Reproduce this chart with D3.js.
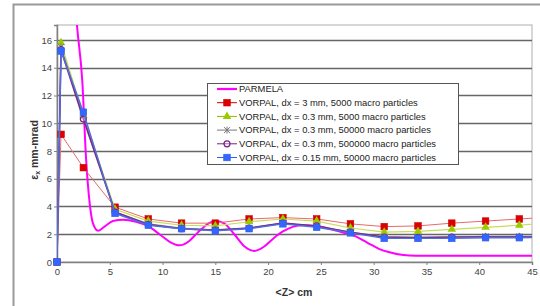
<!DOCTYPE html>
<html>
<head>
<meta charset="utf-8">
<script src="https://cdn.jsdelivr.net/npm/d3@7"></script>
<style>
body { margin: 0; background: #fff; }
svg { display: block; }
</style>
</head>
<body>
<div id="chart"></div>
<script>
// emittance along the beamline, PARMELA vs VORPAL runs

var zSteps = [0, 0.38, 2.5, 5.5, 8.65, 11.8, 15, 18.2, 21.4, 24.6, 27.8, 31, 34.2, 37.4, 40.6, 43.8, 47];
var vorpalDx3mm5k = [0, 9.2, 6.8, 3.95, 3.1, 2.8, 2.8, 3.1, 3.2, 3.1, 2.75, 2.55, 2.6, 2.8, 2.95, 3.1, 3.25];
var vorpalDx03mm5k = [0, 15.8, 10.6, 3.8, 2.95, 2.65, 2.6, 2.9, 3.1, 2.95, 2.45, 2.15, 2.2, 2.35, 2.5, 2.65, 2.85];
var vorpalDx03mm50k = [0, 15.5, 10.5, 3.6, 2.75, 2.45, 2.3, 2.45, 2.8, 2.55, 2.15, 1.8, 1.8, 1.8, 1.85, 1.85, 1.85];
var vorpalDx03mm500k = [0, 15.3, 10.3, 3.6, 2.7, 2.4, 2.3, 2.45, 2.8, 2.6, 2.15, 1.8, 1.75, 1.8, 1.8, 1.8, 1.8];
var vorpalDx015mm50k = [0, 15.2, 10.8, 3.5, 2.65, 2.4, 2.25, 2.4, 2.75, 2.5, 2.1, 1.7, 1.7, 1.7, 1.75, 1.75, 1.8];

var parmelaZ = [1.6, 1.9, 2.4, 2.75, 3.1, 3.4, 3.9, 4.5, 5.3, 6.3, 7.5, 8.5, 9.8, 10.8, 11.6, 12.5, 13.3, 14.2, 15, 15.8, 16.8, 17.8, 18.7, 19.6, 20.5, 21.4, 22.4, 23.3, 24.6, 25.8, 27, 28.3, 29.5, 30.5, 31.5, 32.8, 34, 38, 45];
var parmelaE = [20, 17, 13, 7.5, 4.2, 2.8, 2.25, 2.55, 2.95, 3.05, 2.9, 2.65, 1.95, 1.4, 1.2, 1.5, 2.1, 2.7, 2.95, 2.8, 2.0, 1.1, 0.8, 1.1, 1.7, 2.2, 2.55, 2.65, 2.6, 2.4, 2.15, 1.85, 1.35, 0.95, 0.7, 0.5, 0.45, 0.45, 0.45];

var xTicks = [0, 5, 10, 15, 20, 25, 30, 35, 40, 45];
var yTicks = [0, 2, 4, 6, 8, 10, 12, 14, 16];

var seriesNames = [
	"PARMELA",
	"VORPAL, dx = 3 mm, 5000 macro particles",
	"VORPAL, dx = 0.3 mm, 5000 macro particles",
	"VORPAL, dx = 0.3 mm, 50000 macro particles",
	"VORPAL, dx = 0.3 mm, 500000 macro particles",
	"VORPAL, dx = 0.15 mm, 50000 macro particles"
];

function EmittanceChart(DOMelement) {
	var self = this;
	self._panel = DOMelement || "#chart";
	self.config = {
		width: 540,
		height: 306,
		left: 57, right: 532, top: 25, bottom: 262,
		font: "'Liberation Sans', Arial, sans-serif"
	};

	// style per series, same order as seriesNames
	self.styles = [
		{ line: "#ff00ff", width: 2, marker: null },
		{ line: "#e86a6a", width: 1, marker: "square", fill: "#dd0000", stroke: "#cc0000" },
		{ line: "#c8dc5a", width: 1.2, marker: "triangle", fill: "#99cc00", stroke: "#88bb00" },
		{ line: "#8c8c8c", width: 1.2, marker: "cross", fill: "none", stroke: "#777" },
		{ line: "#7a2a8a", width: 1.6, marker: "circle", fill: "none", stroke: "#7a1f86" },
		{ line: "#4f6fe0", width: 1.4, marker: "square", fill: "#3366ff", stroke: "#2f5ff0" }
	];

	this.drawMarker = function(g, st, x, y) {
		if (st.marker === "square") {
			g.append("rect").attr("x", x - 3.3).attr("y", y - 3.3).attr("width", 6.6).attr("height", 6.6)
				.attr("fill", st.fill).attr("stroke", st.stroke).attr("stroke-width", 0.6);
		} else if (st.marker === "triangle") {
			g.append("path").attr("d", d3.symbol(d3.symbolTriangle, 32)())
				.attr("transform", "translate(" + x + "," + y + ")")
				.attr("fill", st.fill);
		} else if (st.marker === "cross") {
			g.append("path").attr("d", "M-3,-3L3,3M-3,3L3,-3M0,-3.5L0,3.5")
				.attr("transform", "translate(" + x + "," + y + ")")
				.attr("stroke", st.stroke).attr("stroke-width", 1).attr("fill", "none");
		} else if (st.marker === "circle") {
			g.append("circle").attr("cx", x).attr("cy", y).attr("r", 3)
				.attr("fill", "#fff").attr("fill-opacity", 0.3).attr("stroke", st.stroke).attr("stroke-width", 1.2);
		}
	};

	this.Render = function() {
		var c = self.config;
		var svg = d3.select(self._panel).append("svg")
			.attr("width", c.width)
			.attr("height", c.height)
			.style("font-family", c.font);

		// outer chart frame
		svg.append("path")
			.attr("d", "M13.5," + c.height + "L13.5,4.5L" + c.width + ",4.5")
			.attr("fill", "none").attr("stroke", "#9a9a9a").attr("stroke-width", 2);

		var x = d3.scaleLinear().domain([0, 45]).range([c.left, c.right]);
		var y = d3.scaleLinear().domain([0, 17.08]).range([c.bottom, c.top]);

		// plot border (light)
		svg.append("rect")
			.attr("x", c.left).attr("y", c.top)
			.attr("width", c.right - c.left).attr("height", c.bottom - c.top)
			.attr("fill", "#fff").attr("stroke", "#bdbdbd").attr("stroke-width", 1.2);

		// gridlines
		svg.append("g").selectAll("line").data(yTicks.filter(function(t) { return t > 0; })).enter()
			.append("line")
			.attr("x1", c.left).attr("x2", c.right)
			.attr("y1", function(d) { return Math.round(y(d)) + 0.5; })
			.attr("y2", function(d) { return Math.round(y(d)) + 0.5; })
			.attr("stroke", "#666").attr("stroke-width", 1.5);

		// axes
		var xAxis = svg.append("g")
			.attr("transform", "translate(0," + c.bottom + ")")
			.call(d3.axisBottom(x).tickValues(xTicks).tickSize(3).tickPadding(3));
		var yAxis = svg.append("g")
			.attr("transform", "translate(" + c.left + ",0)")
			.call(d3.axisLeft(y).tickValues(yTicks).tickSize(3).tickPadding(2));
		[xAxis, yAxis].forEach(function(ax) {
			ax.select(".domain").attr("stroke", "#808080").attr("stroke-width", 1.5);
			ax.selectAll(".tick line").attr("stroke", "#808080");
			ax.selectAll(".tick text").attr("fill", "#444").style("font-size", "9.5px").style("font-family", c.font);
		});

		svg.append("clipPath").attr("id", "plotclip").append("rect")
			.attr("x", c.left).attr("y", c.top)
			.attr("width", c.right - c.left).attr("height", c.bottom - c.top + 2);

		var lineGen = d3.line().x(function(d) { return x(d[0]); }).y(function(d) { return y(d[1]); });
		var smoothGen = d3.line().curve(d3.curveMonotoneX)
			.x(function(d) { return x(d[0]); }).y(function(d) { return y(d[1]); });

		var vorpal = [vorpalDx3mm5k, vorpalDx03mm5k, vorpalDx03mm50k, vorpalDx03mm500k, vorpalDx015mm50k];
		var plot = svg.append("g");

		// PARMELA
		var parmela = parmelaZ.map(function(z, i) { return [z, parmelaE[i]]; });
		plot.append("path").datum(parmela)
			.attr("clip-path", "url(#plotclip)")
			.attr("d", smoothGen)
			.attr("fill", "none").attr("stroke", self.styles[0].line).attr("stroke-width", self.styles[0].width);

		vorpal.forEach(function(vals, k) {
			var st = self.styles[k + 1];
			var pts = zSteps.map(function(z, i) { return [z, vals[i]]; });
			plot.append("path").datum(pts)
				.attr("clip-path", "url(#plotclip)")
				.attr("d", lineGen)
				.attr("fill", "none").attr("stroke", st.line).attr("stroke-width", st.width);
			var mg = plot.append("g");
			pts.forEach(function(p) {
				if (p[0] > 45) return; // beyond axis end
				self.drawMarker(mg, st, x(p[0]), y(p[1]));
			});
		});

		// axis titles
		var yt = svg.append("text")
			.attr("transform", "translate(38,150) rotate(-90)")
			.attr("text-anchor", "middle")
			.style("font-size", "10.5px").style("font-weight", "bold").attr("fill", "#333");
		yt.append("tspan").text("ε");
		yt.append("tspan").text("x").style("font-size", "7px").attr("dy", 2);
		yt.append("tspan").text(" mm-mrad").attr("dy", -2);

		svg.append("text")
			.attr("x", 294).attr("y", 296)
			.attr("text-anchor", "middle")
			.style("font-size", "10.5px").style("font-weight", "bold").attr("fill", "#333")
			.text("<Z> cm");

		// legend
		var lg = svg.append("g");
		lg.append("rect")
			.attr("x", 207.5).attr("y", 83.5).attr("width", 251).attr("height", 81)
			.attr("fill", "#fff").attr("stroke", "#555").attr("stroke-width", 1);
		seriesNames.forEach(function(name, i) {
			var st = self.styles[i];
			var ly = 89 + i * 13.7;
			lg.append("line").attr("x1", 217).attr("x2", 237).attr("y1", ly).attr("y2", ly)
				.attr("stroke", i === 0 ? st.line : st.stroke).attr("stroke-width", i === 0 ? 2.2 : 1);
			if (st.marker) self.drawMarker(lg, st, 227, ly);
			lg.append("text").attr("x", 239).attr("y", ly + 3.3)
				.style("font-size", "9.4px").attr("fill", "#222")
				.text(name);
		});
	};
}

var chart = new EmittanceChart("#chart");
chart.Render();
</script>
</body>
</html>
